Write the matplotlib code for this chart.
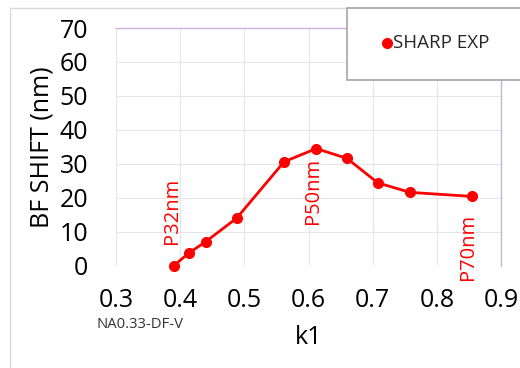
import matplotlib
matplotlib.use('Agg')
import matplotlib.pyplot as plt
from matplotlib.patches import Rectangle

k1 = [0.390, 0.414, 0.440, 0.488, 0.562, 0.612, 0.660, 0.708, 0.758, 0.855]
shift = [0.0, 3.8, 7.1, 14.0, 30.6, 34.5, 31.6, 24.4, 21.6, 20.4]
labels = ['P32nm', 'P50nm', 'P70nm']
label_x = [0.387, 0.607, 0.849]
label_y = [16.1, 22.0, 5.4]
xticks = [0.3, 0.4, 0.5, 0.6, 0.7, 0.8, 0.9]
yticks = [0, 10, 20, 30, 40, 50, 60, 70]

plt.rcParams['font.family'] = ['Open Sans', 'DejaVu Sans']

fig = plt.figure(figsize=(5.2, 3.68), dpi=100)
ax = fig.add_axes([116/520, 1-265.7/368, (501-116)/520, (265.7-28)/368])

ax.plot(k1, shift, color='#ff0000', lw=2, marker='o', ms=7, label='SHARP EXP', zorder=3,
        clip_on=False)
for t, x, y in zip(labels, label_x, label_y):
    ax.text(x, y, t, rotation=90, color='#ff0000', fontsize=14.5, ha='center', va='center')

ax.set_xlim(0.3, 0.9)
ax.set_ylim(0, 70)
ax.set_xticks(xticks)
ax.set_yticks(yticks)
ax.set_xticklabels([str(v) for v in xticks])
ax.tick_params(length=0, labelsize=18)
ax.tick_params(axis='y', pad=20)
ax.tick_params(axis='x', pad=16)
ax.grid(color='#e6e6e6', lw=0.8)
ax.set_axisbelow(True)
for s in ['left', 'bottom']:
    ax.spines[s].set_visible(False)
for s in ['top', 'right']:
    ax.spines[s].set_color('#c8b4e0')
    ax.spines[s].set_linewidth(1)

ax.set_xlabel('k1', fontsize=18, labelpad=9)
ax.set_ylabel('BF SHIFT (nm)', fontsize=18, labelpad=4)
fig.text(97/520, 1-325/368, 'NA0.33-DF-V', fontsize=10.7, va='center', color='#333333')

# chart frame
fig.patches.append(Rectangle((10/520, -0.1), 1.2, 1-8/368+0.1, transform=fig.transFigure,
                             fill=False, ec='#d9d9d9', lw=1))
# legend box
fig.patches.append(Rectangle((347/520, 1-80/368), 0.5, 72/368, transform=fig.transFigure,
                             fc='white', ec='#a6a6a6', lw=1.2, zorder=5))
fig.lines.append(plt.Line2D([387/520], [1-43/368], transform=fig.transFigure, marker='o',
                            color='#ff0000', ms=7, zorder=6))
fig.text(393/520, 1-43/368, 'SHARP EXP', fontsize=13.5, va='center', color='#262626', zorder=6)

fig.savefig('out.png', dpi=100)
